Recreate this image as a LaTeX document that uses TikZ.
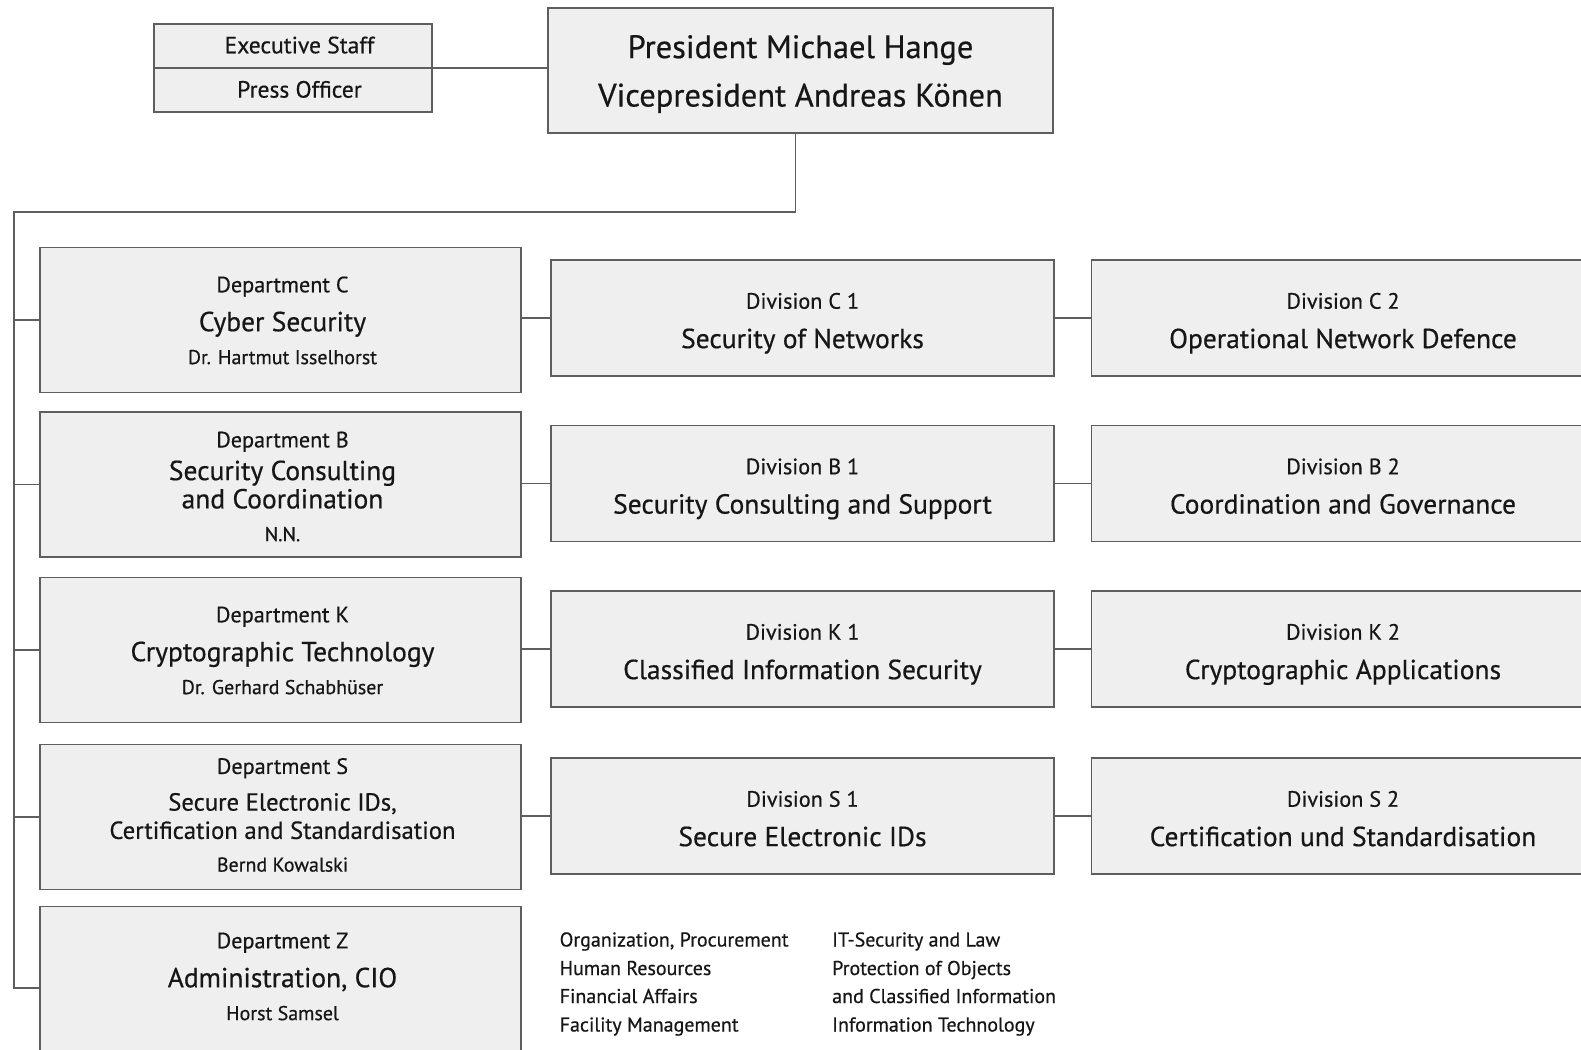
\documentclass[tikz,border=0pt]{standalone}
\usepackage{fontspec}
\setmainfont[FakeBold=0.5]{PT Sans}
\definecolor{boxfill}{HTML}{EFEFEF}
\definecolor{boxline}{HTML}{5E5E5E}
\definecolor{ink}{HTML}{161616}
\tikzset{
  orgbox/.style={draw=boxline, fill=boxfill, line width=1.8pt, inner sep=0pt},
  deptbox/.style={orgbox, minimum width=481pt, minimum height=145pt},
  divbox/.style={orgbox, minimum width=503pt, minimum height=116pt},
  conn/.style={draw=boxline, line width=1.8pt},
  txt/.style={text=ink, inner sep=0pt, anchor=base},
  subtxt/.style={txt, font=\fontsize{22.2}{26}\selectfont},
  titletxt/.style={txt, font=\fontsize{27.5}{33}\selectfont},
  smalltitletxt/.style={txt, font=\fontsize{24.7}{30}\selectfont},
  persontxt/.style={txt, font=\fontsize{20}{24}\selectfont},
  listtxt/.style={txt, anchor=base west, font=\fontsize{20}{24}\selectfont},
}
% department with a one-line title; #6 moves the text block down
\newcommand\deptthree[6]{%
  \node[deptbox] (#1) at (280.5,#2) {};
  \node[subtxt] (#1-a) at (282.5,{#2+#6-27.7}) {#3};
  \node[titletxt] (#1-b) at (282.5,{#2+#6+11.2}) {#4};
  \node[persontxt] (#1-c) at (282.5,{#2+#6+44.1}) {#5};
}
% division box centred at x,y
\newcommand\division[5]{%
  \node[divbox] (#1) at (#2,#3) {};
  \node[subtxt] (#1-a) at (#2,{#3-9.3}) {#4};
  \node[titletxt] (#1-b) at (#2,{#3+30.1}) {#5};
}
\begin{document}
\begin{tikzpicture}[x=1pt,y=-1pt]
\useasboundingbox (0,0) rectangle (1581,1049);
\fill[white] (0,0) rectangle (1581,1049);
\clip (0,0) rectangle (1581,1049);

% head of office and staff units
\node[orgbox, minimum width=505pt, minimum height=125pt] (pres) at (800.5,70.5) {};
\node[txt, font=\fontsize{32.5}{39}\selectfont] (pres-a) at (800.5,58.1) {President Michael Hange};
\node[txt, font=\fontsize{32.5}{39}\selectfont] (pres-b) at (800.5,106.5) {Vicepresident Andreas Könen};

\node[orgbox, minimum width=278pt, minimum height=88pt] (staff) at (293,68) {};
\draw[conn] (staff.west) -- (staff.east);
\node[txt, font=\fontsize{23.5}{28}\selectfont] (staff-a) at (299.5,53.3) {Executive Staff};
\node[txt, font=\fontsize{23.5}{28}\selectfont] (staff-b) at (299.5,97.6) {Press Officer};
\draw[conn] (staff.east) -- (pres.west |- staff.east);

% departments
\deptthree{dC}{320}{Department C}{Cyber Security}{Dr. Hartmut Isselhorst}{0}

\node[deptbox] (dB) at (280.5,484.5) {};
\node[subtxt] (dB-a) at (282.5,447.4) {Department B};
\node[titletxt] (dB-b) at (282.5,480.1) {Security Consulting};
\node[titletxt] (dB-c) at (282.5,508.4) {and Coordination};
\node[persontxt] (dB-d) at (282.5,541.1) {N.N.};

\deptthree{dK}{650}{Department K}{Cryptographic Technology}{Dr. Gerhard Schabhüser}{0}

\node[deptbox] (dS) at (280.5,817) {};
\node[subtxt] (dS-a) at (282.5,773.9) {Department S};
\node[smalltitletxt] (dS-b) at (282.5,810.6) {Secure Electronic IDs,};
\node[smalltitletxt] (dS-c) at (282.5,838.9) {Certification and Standardisation};
\node[persontxt] (dS-d) at (282.5,871.6) {Bernd Kowalski};

\deptthree{dZ}{979}{Department Z}{Administration, CIO}{Horst Samsel}{-3}

% divisions
\division{vC1}{802.5}{318}{Division C 1}{Security of Networks}
\division{vC2}{1343}{318}{Division C 2}{Operational Network Defence}
\division{vB1}{802.5}{483.5}{Division B 1}{Security Consulting and Support}
\division{vB2}{1343}{483.5}{Division B 2}{Coordination and Governance}
\division{vK1}{802.5}{649}{Division K 1}{Classified Information Security}
\division{vK2}{1343}{649}{Division K 2}{Cryptographic Applications}
\division{vS1}{802.5}{816}{Division S 1}{Secure Electronic IDs}
\division{vS2}{1343}{816}{Division S 2}{Certification und Standardisation}

% organisation lines
\coordinate (spine) at (14,212);
\coordinate (spineend) at (14,988);
\draw[conn] ([xshift=-5pt]pres.south) |- (spine) -- (spineend) -- (spineend -| dZ.west);
\foreach \d in {dC,dB,dK,dS}
  \draw[conn] (spine |- \d.west) -- (\d.west);
\foreach \r in {C,B,K,S} {
  \draw[conn] (v\r1.west -| d\r.east) -- (v\r1.west);
  \draw[conn] (v\r1.east) -- (v\r2.west);
}

% tasks of department Z
\node[listtxt] (z1) at (559.5,946.5) {Organization, Procurement};
\node[listtxt] (z2) at (559.5,975) {Human Resources};
\node[listtxt] (z3) at (559.5,1003) {Financial Affairs};
\node[listtxt] (z4) at (559.5,1031.5) {Facility Management};
\node[listtxt] (z5) at (832,946.5) {IT-Security and Law};
\node[listtxt] (z6) at (832,975) {Protection of Objects};
\node[listtxt] (z7) at (832,1003) {and Classified Information};
\node[listtxt] (z8) at (832,1031.5) {Information Technology};
\end{tikzpicture}
\end{document}
